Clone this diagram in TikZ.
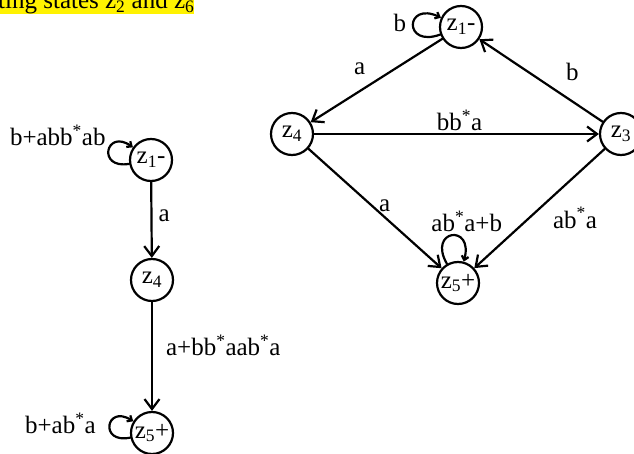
\documentclass[tikz,border=0pt]{standalone}
\usepackage{fontspec}
\setmainfont{Liberation Serif}
\usetikzlibrary{arrows.meta}
\newcommand{\zs}[1]{z\textsubscript{#1}}
\newcommand{\kl}{\textsuperscript{*}}

\begin{document}
\begin{tikzpicture}[x=1pt,y=1pt,line cap=round,line join=round,
  font=\fontsize{25}{30}\selectfont,
  state/.style={draw,circle,line width=2.2pt,minimum size=42pt,inner sep=0pt},
  trans/.style={line width=2.2pt,-{Straight Barb[length=10pt,width=15pt]}},
  selfloop/.style={line width=2.2pt,-{Straight Barb[length=4pt,width=7pt]}},
  lab/.style={inner sep=0pt}]
  \useasboundingbox (0,0) rectangle (634,453);
  \clip (0,0) rectangle (634,453);
  % heading, cut off at the top
  \node[lab,anchor=base west,fill=yellow] (head) at (-2,444) {ting states \zs{2} and \zs{6}};
  % reduced machine on the left
  \node[state] (L1) at (151,293) {\zs{1}-};
  \node[state] (L4) at (152,173) {\zs{4}};
  \node[state] (L5) at (152,20) {\zs{5}+};
  % machine on the right
  \node[state] (R1) at (461,426) {\zs{1}-};
  \node[state] (R4) at (292,319) {\zs{4}};
  \node[state] (R3) at (621,319) {\zs{3}};
  \node[state] (R5) at (458,170) {\zs{5}+};
  % left transitions
  \draw[trans] (L1) -- node[lab,midway,anchor=base west,xshift=6pt,yshift=-2pt] {a} (L4);
  \draw[trans] (L4) -- node[lab,midway,anchor=base west,xshift=13pt,yshift=1pt] {a+bb\kl aab\kl a} (L5);
  \draw[selfloop] (L1) to[out=190,in=145,looseness=5] node[lab,anchor=base east,xshift=-2pt,yshift=4.7pt] {b+abb\kl ab} (L1);
  \draw[selfloop] (L5) to[out=192,in=148,looseness=5] node[lab,anchor=base east,xshift=-13pt,yshift=-7.5pt] {b+ab\kl a} (L5);
  % right transitions
  \draw[trans] (R1) -- node[lab,midway,anchor=base west,xshift=-23.5pt,yshift=5.5pt] {a} (R4);
  \draw[trans] (R3) -- node[lab,midway,anchor=base west,xshift=24pt] {b} (R1);
  \draw[trans] (R4) -- node[lab,midway,anchor=base,xshift=3pt,yshift=3pt] {bb\kl a} (R3);
  \draw[trans] (R4) -- node[lab,midway,anchor=base west,xshift=3pt,yshift=-3.5pt] {a} (R5);
  \draw[trans] (R3) -- node[lab,midway,anchor=base west,xshift=12.5pt,yshift=-19.5pt] {ab\kl a} (R5);
  \draw[selfloop] (R1) to[out=200,in=155,looseness=6] node[lab,anchor=base east,xshift=-6pt,yshift=-7pt] {b} (R1);
  \draw[selfloop] (R5) to[out=120,in=75,looseness=6] node[lab,anchor=base,xshift=15pt,yshift=3.5pt] {ab\kl a+b} (R5);
\end{tikzpicture}
\end{document}
